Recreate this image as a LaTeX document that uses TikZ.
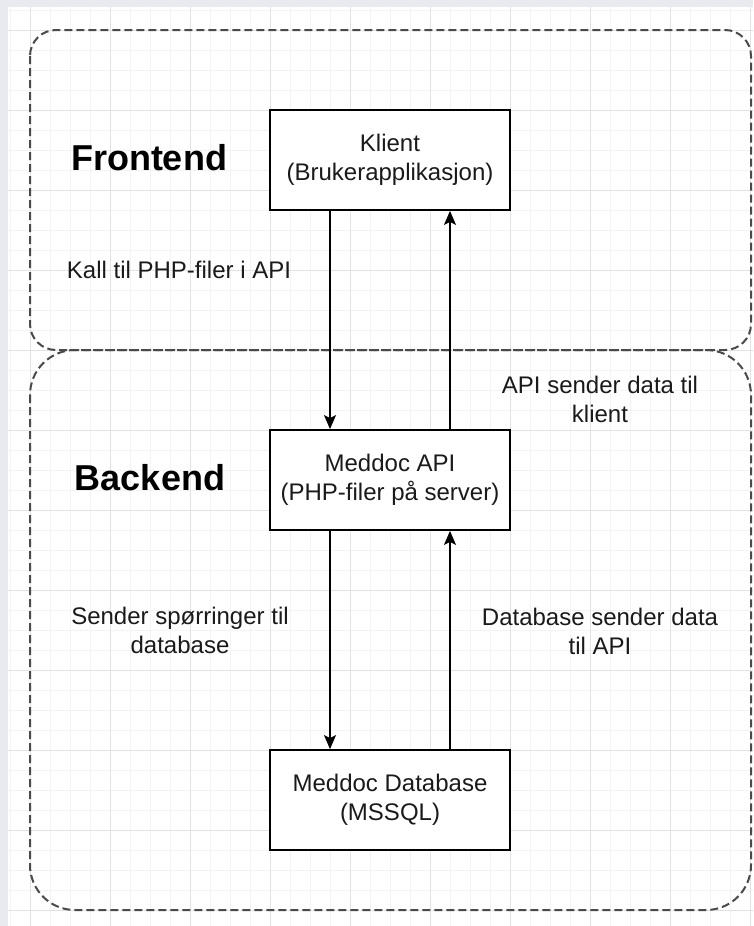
\documentclass[tikz,border=0pt]{standalone}
\usepackage{fontspec}
\setmainfont{Liberation Sans}
\usetikzlibrary{arrows.meta}
\definecolor{framegray}{HTML}{E9EAF0}
\definecolor{minorgrid}{HTML}{F3F3F3}
\definecolor{majorgrid}{HTML}{E2E2E2}
\definecolor{dashgray}{HTML}{4A4A4A}
\definecolor{txt}{HTML}{1A1A1A}

\begin{document}
\begin{tikzpicture}[x=1pt,y=-1pt,
    box/.style={draw=black,line width=1.8pt,fill=white,minimum width=240pt,minimum height=100pt,align=center,text=txt,font=\fontsize{24}{29}\selectfont},
    lbl/.style={align=center,text=txt,font=\fontsize{24}{29}\selectfont},
    title/.style={text=black,font=\fontsize{36}{40}\selectfont\bfseries},
    area/.style={draw=dashgray,line width=2pt,dash pattern=on 8pt off 4pt},
    flow/.style={-{Stealth[length=14pt,width=12pt,inset=3pt]},line width=1.6pt}]
    \useasboundingbox (0,0) rectangle (753,926);
    \fill[framegray] (0,0) rectangle (753,926);
    \fill[white] (8,7) rectangle (753,926);
    \foreach \x in {10,30,...,750} \draw[minorgrid,line width=1pt] (\x,7) -- (\x,926);
    \foreach \y in {10,30,...,920} \draw[minorgrid,line width=1pt] (8,\y) -- (753,\y);
    \foreach \x in {30,110,...,750} \draw[majorgrid,line width=1pt] (\x,7) -- (\x,926);
    \foreach \y in {30,110,...,920} \draw[majorgrid,line width=1pt] (8,\y) -- (753,\y);
    \draw[area,rounded corners=26pt] (30,30) rectangle (751,350);
    \draw[area,rounded corners=45pt] (30,350) rectangle (751,910);
    \node[title] (frontend) at (149,158) {Frontend};
    \node[title] (backend) at (150,478) {Backend};
    \node[box] (klient) at (390,160) {Klient\\(Brukerapplikasjon)};
    \node[box] (api) at (390,480) {Meddoc API\\(PHP-filer på server)};
    \node[box] (db) at (390,800) {Meddoc Database\\(MSSQL)};
    \draw[flow] ([xshift=-60pt]klient.south) -- ([xshift=-60pt]api.north);
    \draw[flow] ([xshift=60pt]api.north) -- ([xshift=60pt]klient.south);
    \draw[flow] ([xshift=-60pt]api.south) -- ([xshift=-60pt]db.north);
    \draw[flow] ([xshift=60pt]db.north) -- ([xshift=60pt]api.south);
    \node[lbl] (kall) at (179,270) {Kall til PHP-filer i API};
    \node[lbl] (apisender) at (600,399) {API sender data til\\klient};
    \node[lbl] (sporringer) at (180,630) {Sender spørringer til\\database};
    \node[lbl] (dbsender) at (600,631) {Database sender data\\til API};
\end{tikzpicture}
\end{document}
